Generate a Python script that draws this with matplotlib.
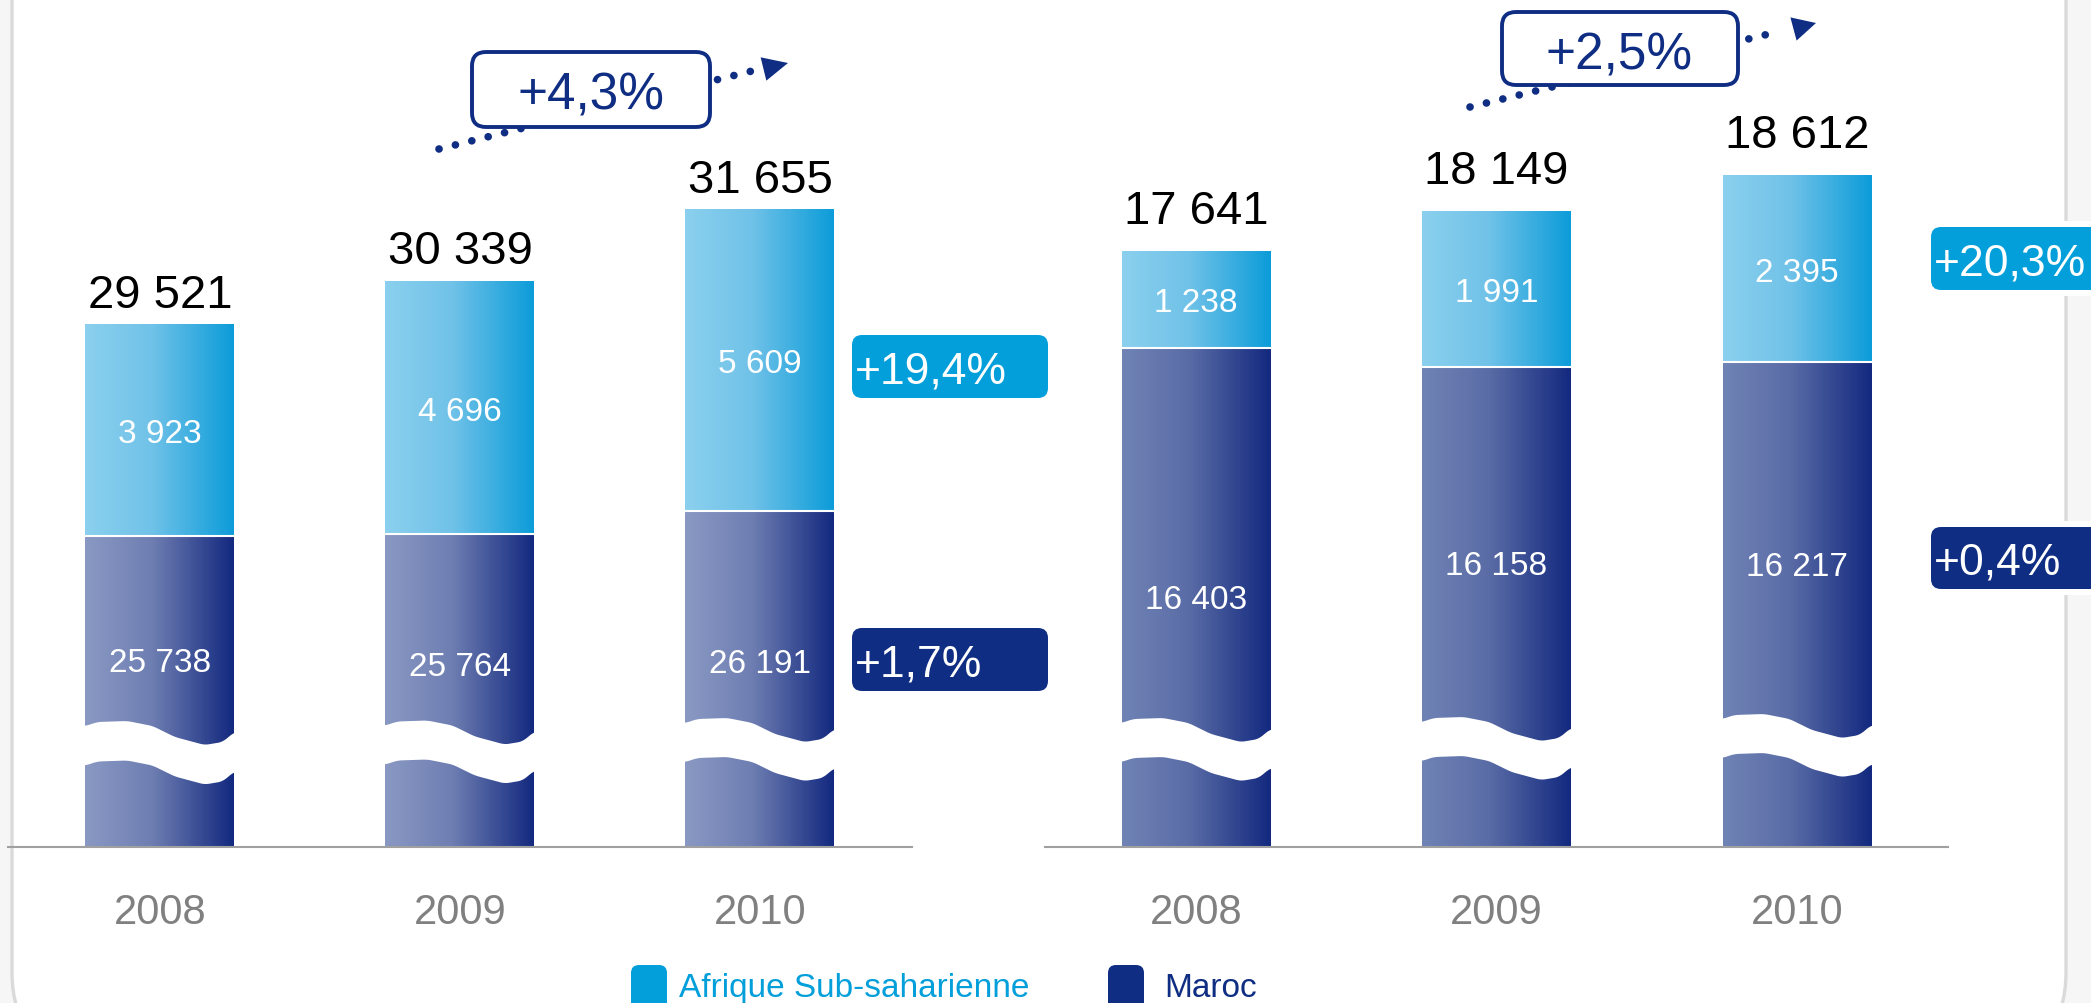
import numpy as np
import matplotlib
matplotlib.use('Agg')
import matplotlib.pyplot as plt
from matplotlib.patches import FancyBboxPatch, Polygon
from matplotlib.colors import LinearSegmentedColormap
import matplotlib.transforms as mtrans

plt.rcParams['font.family'] = ['Liberation Sans', 'DejaVu Sans']

# ---------------- data ----------------
years = ['2008', '2009', '2010']
series_names = ['Afrique Sub-saharienne', 'Maroc']

left_maroc = [25738, 25764, 26191]
left_afrique = [3923, 4696, 5609]
left_total = [29521, 30339, 31655]
left_growth = ['+4,3%', '+19,4%', '+1,7%']      # total, Afrique, Maroc

right_maroc = [16403, 16158, 16217]
right_afrique = [1238, 1991, 2395]
right_total = [17641, 18149, 18612]
right_growth = ['+2,5%', '+20,3%', '+0,4%']     # total, Afrique, Maroc

# ---------------- style ----------------
LIGHT = '#029FDA'
NAVY = '#0F2D83'
W, H = 2091, 1004
BASE = 848

def fmt(v):
    return f"{v:,}".replace(',', ' ')

fig = plt.figure(figsize=(W / 100, H / 100), dpi=100, facecolor='#f6f6f6')

bg = fig.add_axes([0, 0, 1, 1], zorder=0)
bg.set_xlim(0, W); bg.set_ylim(H, 0); bg.axis('off')
bg.add_patch(FancyBboxPatch((12, -150), 2054, 1206,
                            boxstyle='round,pad=0,rounding_size=83',
                            fc='white', ec='#dadada', lw=2.4))

ov = fig.add_axes([0, 0, 1, 1], zorder=3)
ov.set_xlim(0, W); ov.set_ylim(H, 0); ov.axis('off')

light_cmap = LinearSegmentedColormap.from_list(
    'l', [(0, '#8BD0EE'), (0.45, '#70C2E8'), (1, '#0C9CD9')])

# break-mark shape (offsets in px across the bar width)
wave_t = [0, 0.08, 0.28, 0.45, 0.6, 0.8, 0.92, 1.0]
wave_f = [-7, -11, -12, -7, 4, 12, 9, -1]
tt = np.linspace(0, 1, 201)
ff = np.interp(tt, wave_t, wave_f)
kern = np.ones(13) / 13
ff = np.convolve(np.pad(ff, 6, mode='edge'), kern, mode='valid')

panels = [
    dict(maroc=left_maroc, afr=left_afrique, tot=left_total,
         x0=8, x1=912, c0=160, sp=300, ymin=19965, k=0.0539,
         dark=[(0, '#8A99C3'), (0.45, '#6E7EB2'), (1, '#13297F')],
         upper=[734, 733.5, 731], lower=[773.5, 772.5, 770],
         dark_lab=[660, 664, 661], tot_off=25),
    dict(maroc=right_maroc, afr=right_afrique, tot=right_total,
         x0=1045, x1=1948, c0=1196, sp=300.5, ymin=10000, k=0.078,
         dark=[(0, '#7083B5'), (0.45, '#5A6CA6'), (1, '#13297F')],
         upper=[731, 730, 727], lower=[770, 769, 766],
         dark_lab=[597, 563, 564], tot_off=28),
]

grad = np.linspace(0, 1, 256).reshape(1, -1)

for P in panels:
    ax = fig.add_axes([P['x0'] / W, (H - BASE) / H, (P['x1'] - P['x0']) / W, BASE / H], zorder=1)
    ax.patch.set_alpha(0)
    xs = np.arange(len(years))
    sp = P['sp']
    bw = 149 / sp
    xlim = (-(P['c0'] - P['x0']) / sp, (len(years) - 1) + (P['x1'] - (P['c0'] + (len(years) - 1) * sp)) / sp)
    ylim = (P['ymin'], P['ymin'] + BASE / P['k'])
    dark_cmap = LinearSegmentedColormap.from_list('d', P['dark'])

    bars_m = ax.bar(xs, P['maroc'], width=bw, color='none', lw=0)
    bars_a = ax.bar(xs, P['afr'], bottom=P['maroc'], width=bw, color='none', lw=0)
    for bars, cmap in ((bars_m, dark_cmap), (bars_a, light_cmap)):
        for b in bars:
            x, y, w, h = b.get_x(), b.get_y(), b.get_width(), b.get_height()
            im = ax.imshow(grad, extent=[x, x + w, max(y, ylim[0]), y + h], aspect='auto',
                           cmap=cmap, origin='lower', zorder=2, interpolation='bicubic')
            im.set_clip_path(b)
    ax.hlines(P['maroc'], xs - bw / 2, xs + bw / 2, colors='white', lw=1.5, zorder=3)

    trans = mtrans.blended_transform_factory(ax.transData, ov.transData)
    for i in range(len(xs)):
        xx = xs[i] - bw / 2 + tt * bw
        xx = np.r_[xx[0] - 0.01, xx, xx[-1] + 0.01]
        fe = np.r_[ff[0], ff, ff[-1]]
        yu = P['upper'][i] + fe
        yl = P['lower'][i] + fe
        poly = Polygon(np.column_stack([np.r_[xx, xx[::-1]], np.r_[yu, yl[::-1]]]),
                       closed=True, fc='white', ec='none', transform=trans, zorder=4)
        ax.add_patch(poly)

        ax.annotate(fmt(P['tot'][i]), (xs[i], P['tot'][i]), xytext=(0, P['tot_off']),
                    textcoords='offset pixels', ha='center', va='baseline',
                    fontsize=34, color='black', zorder=6)
        ax.annotate(fmt(P['afr'][i]), (xs[i], P['maroc'][i] + P['afr'][i] / 2), xytext=(0, -12),
                    textcoords='offset pixels', ha='center', va='baseline',
                    fontsize=24, color='white', zorder=6)
        ax.text(xs[i], P['dark_lab'][i] + 12, fmt(P['maroc'][i]), transform=trans,
                ha='center', va='baseline', fontsize=24, color='white', zorder=6)
        ax.text(xs[i], 924, years[i], transform=trans, ha='center', va='baseline',
                fontsize=30, color='#808080')

    for s_ in ['top', 'left', 'right']:
        ax.spines[s_].set_visible(False)
    ax.spines['bottom'].set_color('#a0a0a0')
    ax.spines['bottom'].set_linewidth(1.5)
    ax.set_xticks([]); ax.set_yticks([])
    ax.set_xlim(*xlim); ax.set_ylim(*ylim)

# ---------------- overlay: growth boxes, arrows, legend ----------------
def filled_box(x0, y0, x1, y1, color, text, margin=0):
    if margin:
        ov.add_patch(FancyBboxPatch((x0 - margin, y0 - margin), x1 - x0 + 2 * margin, y1 - y0 + 2 * margin,
                                    boxstyle='round,pad=0,rounding_size=12', fc='white', ec='none', zorder=2))
    ov.add_patch(FancyBboxPatch((x0, y0), x1 - x0, y1 - y0,
                                boxstyle='round,pad=0,rounding_size=10', fc=color, ec='none', zorder=3))
    ov.text(x0 + 3, (y0 + y1) / 2 + 16, text, ha='left', va='baseline', fontsize=32,
            color='white', zorder=4)

filled_box(852, 336, 1048, 399, LIGHT, left_growth[1])
filled_box(852, 629, 1048, 692, NAVY, left_growth[2])
filled_box(1931, 228, 2140, 291, LIGHT, right_growth[1], margin=6)
filled_box(1931, 528, 2140, 590, NAVY, right_growth[2], margin=6)

def trend(start, end, tip, base_c, box, text, tc):
    ov.plot([start[0], end[0]], [start[1], end[1]], color=NAVY, lw=5.5,
            linestyle=(0, (0.01, 2.2)), dash_capstyle='round', zorder=1)
    tip = np.array(tip, float); base_c = np.array(base_c, float)
    d = tip - base_c; u = d / np.linalg.norm(d); p = np.array([-u[1], u[0]])
    ov.add_patch(Polygon([tip, base_c + p * 12, base_c - p * 12], closed=True,
                         fc=NAVY, ec='none', zorder=1))
    x0, y0, x1, y1 = box
    ov.add_patch(FancyBboxPatch((x0, y0), x1 - x0, y1 - y0,
                                boxstyle='round,pad=0,rounding_size=14',
                                fc='white', ec=NAVY, lw=2.8, zorder=2))
    ov.text(tc[0], tc[1] + 18, text, ha='center', va='baseline', fontsize=37,
            color=NAVY, zorder=3)

trend((439, 150), (752, 72), (788, 64), (763.5, 70), (472, 53, 710, 128), left_growth[0], (591, 92))
trend((1470, 108), (1781, 32), (1816, 24), (1793.5, 30), (1502, 13, 1738, 86), right_growth[0], (1619, 51))

# legend
for (sx, tx), name, col in zip([(631, 679), (1108, 1164)], series_names, [LIGHT, NAVY]):
    ov.add_patch(FancyBboxPatch((sx, 966), 36, 50, boxstyle='round,pad=0,rounding_size=8',
                                fc=col, ec='none', zorder=2))
    ov.text(tx, 997, name, ha='left', va='baseline', fontsize=24, color=col, zorder=3)

fig.savefig('out.png', dpi=100, facecolor=fig.get_facecolor())
